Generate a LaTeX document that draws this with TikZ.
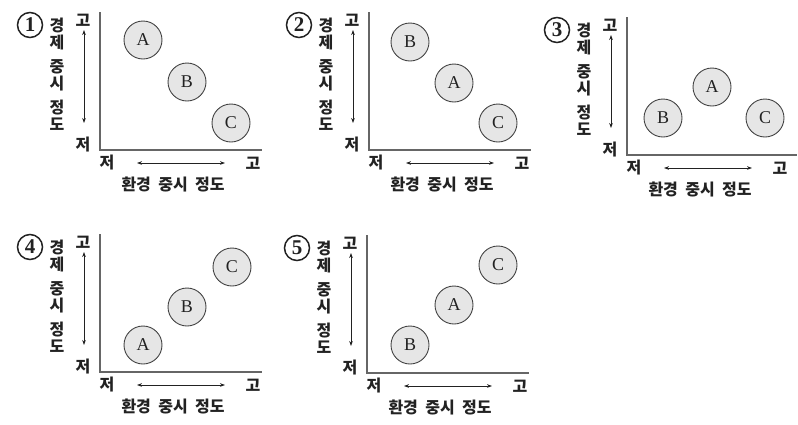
\documentclass[tikz,border=0pt]{standalone}
\usepackage{fontspec}
\setmainfont{Liberation Serif}
\newfontfamily\krfont[WordSpace=2]{Noto Sans CJK KR}
\usetikzlibrary{arrows.meta}
\definecolor{ink}{HTML}{222222}
\definecolor{axisgray}{HTML}{666666}
\definecolor{ballfill}{HTML}{E6E6E6}
\tikzset{
  axisline/.style={draw=axisgray, line width=1.4pt, line join=miter},
  dblarrow/.style={draw=ink, line width=0.7pt, {Stealth[length=5pt,width=3.6pt]}-{Stealth[length=5pt,width=3.6pt]}},
  ball/.style={circle, draw=ink!85, line width=0.9pt, fill=ballfill, minimum size=38pt, inner sep=0pt, font=\fontsize{18}{18}\selectfont, text=ink},
  krlabel/.style={font=\krfont\bfseries\fontsize{16}{16}\selectfont, text=ink, inner sep=0pt},
  vtext/.style={krlabel, align=center, font=\krfont\bfseries\fontsize{16}{17}\selectfont},
  numlabel/.style={circle, draw=ink, line width=1.5pt, minimum size=25pt, inner sep=0pt, font=\bfseries\fontsize{21}{21}\selectfont, text=ink},
}
% #1 prefix, #2 digit, #3 horizontal axis length
\newcommand\qpanel[3]{%
  \coordinate (#1top) at (0,0);
  \coordinate (#1org) at (0,138);
  \coordinate (#1end) at (#3,138);
  \draw[axisline] (#1top) -- (#1org) -- (#1end);
  \node[numlabel] (#1num) at (-70,13) {#2};
  \node[vtext] (#1vt) at (-43,62) {경\\제\\[7pt]중\\시\\[7pt]정\\도};
  \node[krlabel] (#1hiY) at (-17,8) {고};
  \node[krlabel] (#1loY) at (-17,133) {저};
  \coordinate (#1ya) at (-16,18);
  \coordinate (#1yb) at (-16,111);
  \draw[dblarrow] (#1ya) -- (#1yb);
  \node[krlabel] (#1loX) at (7,151) {저};
  \node[krlabel] (#1hiX) at (153,151) {고};
  \coordinate (#1xa) at (37,151);
  \coordinate (#1xb) at (125,151);
  \draw[dblarrow] (#1xa) -- (#1xb);
  \node[krlabel] (#1xt) at (73,172) {환경 중시 정도};
}
\begin{document}
\begin{tikzpicture}[x=1pt, y=-1pt]
  \useasboundingbox (0,0) rectangle (798,424);
  % panel 1
  \begin{scope}[shift={(100,12)}]
    \qpanel{pa}{1}{162}
    \node[ball] (paA) at (43,28) {A};
    \node[ball] (paB) at (87,70) {B};
    \node[ball] (paC) at (131,111) {C};
  \end{scope}
  % panel 2
  \begin{scope}[shift={(369,12)}]
    \qpanel{pb}{2}{162}
    \node[ball] (pbB) at (41,30) {B};
    \node[ball] (pbA) at (85,71) {A};
    \node[ball] (pbC) at (129,111) {C};
  \end{scope}
  % panel 3
  \begin{scope}[shift={(627,17)}]
    \qpanel{pc}{3}{170}
    \node[ball] (pcB) at (36,101) {B};
    \node[ball] (pcA) at (85,70) {A};
    \node[ball] (pcC) at (138,101) {C};
  \end{scope}
  % panel 4
  \begin{scope}[shift={(100,234)}]
    \qpanel{pd}{4}{162}
    \node[ball] (pdA) at (43,111) {A};
    \node[ball] (pdB) at (87,73) {B};
    \node[ball] (pdC) at (132,33) {C};
  \end{scope}
  % panel 5
  \begin{scope}[shift={(367,235)}]
    \qpanel{pe}{5}{162}
    \node[ball] (peB) at (43,110) {B};
    \node[ball] (peA) at (87,70) {A};
    \node[ball] (peC) at (131,30) {C};
  \end{scope}
\end{tikzpicture}
\end{document}
